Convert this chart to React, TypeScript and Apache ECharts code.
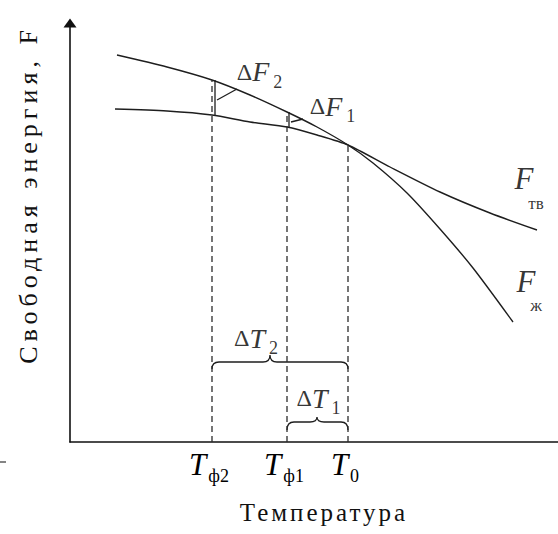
import React, { useEffect, useRef } from 'react';
import * as echarts from 'echarts';

const FONT = 'Liberation Serif';
const INK = '#1e1e1e';

// Temperatures marked on the axis (arbitrary units)
const tempTicks = [142, 217, 278];
const tempTickSubs = ['ф2', 'ф1', '0'];

// Free energy of the liquid phase, F_ж(T)
const liquidCurve: number[][] = [
  [47, 387], [97, 375], [142, 362], [180, 347], [217, 330], [247, 315],
  [278, 297], [303, 279], [337, 249], [370, 213], [403, 174], [443, 120],
];
// Free energy of the solid phase, F_тв(T)
const solidCurve: number[][] = [
  [45, 333], [97, 331], [142, 327], [180, 320], [217, 315], [247, 307],
  [278, 297], [320, 275], [370, 250], [420, 229], [467, 212],
];
// Height at which each dashed drop line meets the liquid curve
const dropTops = [362, 330, 297];

// ΔF markers between the curves: [x1, y1, x2, y2]
const gapMarks: number[][] = [
  [145, 327, 145, 362],
  [147, 342, 167, 353],
  [219, 315, 219, 330],
  [221, 320, 233, 323],
];

// Undercooling braces: [xLeft, xRight, xTip, yEnds, yBar, yTip]
const braces: number[][] = [
  [142, 278, 200, 73, 80, 87],
  [217, 278, 247, 12, 20, 25],
];

// Annotation text anchors: [x, y, text]
const annotations: [number, number, string][] = [
  [189.5, 370.5, '{d|Δ}{v|F}{s|2}'],
  [262.5, 336, '{d|Δ}{v|F}{s|1}'],
  [186, 104, '{d|Δ}{v|T}{s|2}'],
  [248.5, 44, '{d|Δ}{v|T}{s|1}'],
  [454, 264, '{b|F}'],
  [466, 239, '{c|тв}'],
  [456, 161, '{b|F}'],
  [466, 137, '{c|ж}'],
];

// Axis titles are typeset with wide tracking
const TITLE_CSS =
  '#root svg text[style*="25px"]{letter-spacing:3px}' +
  '#root svg text[style*="26px"]{letter-spacing:5px}';

export default function App() {
  const ref = useRef<HTMLDivElement>(null);

  useEffect(() => {
    if (!ref.current) return;
    const chart = echarts.init(ref.current, undefined, { renderer: 'svg' });

    const thin = { color: INK, width: 1.3 };

    const series: any[] = [
      {
        type: 'line',
        data: liquidCurve,
        smooth: 0.25,
        symbol: 'none',
        lineStyle: { color: INK, width: 1.4 },
      },
      {
        type: 'line',
        data: solidCurve,
        smooth: 0.25,
        symbol: 'none',
        lineStyle: { color: INK, width: 1.4 },
      },
      ...tempTicks.map((t, i) => ({
        type: 'line',
        data: [[t, 0], [t, dropTops[i]]],
        symbol: 'none',
        lineStyle: { color: '#2a2a2a', width: 1.3, type: [6, 4] },
      })),
      ...gapMarks.map((m) => ({
        type: 'line',
        data: [[m[0], m[1]], [m[2], m[3]]],
        symbol: 'none',
        lineStyle: thin,
      })),
      {
        type: 'custom',
        data: braces,
        encode: { x: [0, 1, 2], y: [3, 4, 5] },
        renderItem: (_p: any, api: any) => {
          const [x1, yE] = api.coord([api.value(0), api.value(3)]);
          const [x2] = api.coord([api.value(1), api.value(3)]);
          const [xt, yt] = api.coord([api.value(2), api.value(5)]);
          const yb = api.coord([0, api.value(4)])[1];
          const r = 7;
          const d =
            `M${x1},${yE} Q${x1},${yb} ${x1 + r},${yb} L${xt - r},${yb} ` +
            `Q${xt},${yb} ${xt},${yt} Q${xt},${yb} ${xt + r},${yb} ` +
            `L${x2 - r},${yb} Q${x2},${yb} ${x2},${yE}`;
          return {
            type: 'path',
            shape: { pathData: d },
            style: { stroke: INK, fill: 'none', lineWidth: 1.3 },
          };
        },
      },
      {
        type: 'scatter',
        symbolSize: 0,
        silent: true,
        data: annotations.map(([x, y, text]) => ({
          value: [x, y],
          label: { formatter: text },
        })),
        label: {
          show: true,
          position: 'inside',
          color: '#000',
          rich: {
            d: { fontFamily: FONT, fontSize: 24, lineHeight: 28, color: '#000' },
            v: { fontFamily: FONT, fontSize: 28, fontStyle: 'italic', lineHeight: 28, color: '#000' },
            s: { fontFamily: FONT, fontSize: 18, lineHeight: 18, padding: [20, 0, 0, 4], color: '#000' },
            b: { fontFamily: FONT, fontSize: 31, fontStyle: 'italic', lineHeight: 32, color: '#000' },
            c: { fontFamily: FONT, fontSize: 17, lineHeight: 18, color: '#000' },
          },
        },
      },
    ];

    chart.setOption({
      animation: false,
      grid: { left: 70, right: 0, top: 23, bottom: 92 },
      xAxis: {
        type: 'value',
        min: 0,
        max: 488,
        name: 'Температура',
        nameLocation: 'middle',
        nameGap: 58,
        nameTextStyle: { fontFamily: FONT, fontSize: 25, color: '#111', padding: [0, 0, 0, 20] },
        axisLine: { show: true, lineStyle: { color: '#111', width: 1.6 } },
        axisTick: { show: false },
        splitLine: { show: false },
        axisLabel: {
          customValues: tempTicks,
          margin: 7,
          formatter: (v: number) => `{t|T}{s|${tempTickSubs[tempTicks.indexOf(v)]}}`,
          rich: {
            t: { fontFamily: FONT, fontSize: 31, fontStyle: 'italic', lineHeight: 30, color: '#000' },
            s: { fontFamily: FONT, fontSize: 18, lineHeight: 16, padding: [24, 6, 0, 2], color: '#000' },
          },
        },
      },
      yAxis: {
        type: 'value',
        min: 0,
        max: 419,
        name: 'Свободная энергия, F',
        nameLocation: 'middle',
        nameGap: 29,
        nameRotate: 90,
        nameTextStyle: { fontFamily: FONT, fontSize: 26, color: '#111', padding: [0, 0, 0, 76] },
        axisLine: {
          show: true,
          symbol: ['none', 'triangle'],
          symbolSize: [13, 9],
          lineStyle: { color: '#111', width: 1.6 },
        },
        axisTick: { show: false },
        axisLabel: { show: false },
        splitLine: { show: false },
      },
      graphic: [
        { type: 'line', shape: { x1: 0, y1: 462, x2: 6, y2: 462 }, style: { stroke: '#333', lineWidth: 1.2 } },
      ],
      series,
    });

    return () => chart.dispose();
  }, []);

  return (
    <>
      <style>{TITLE_CSS}</style>
      <div
        ref={ref}
        style={{ position: 'fixed', left: 0, top: 0, width: 558, height: 534, background: '#fff' }}
      />
    </>
  );
}
